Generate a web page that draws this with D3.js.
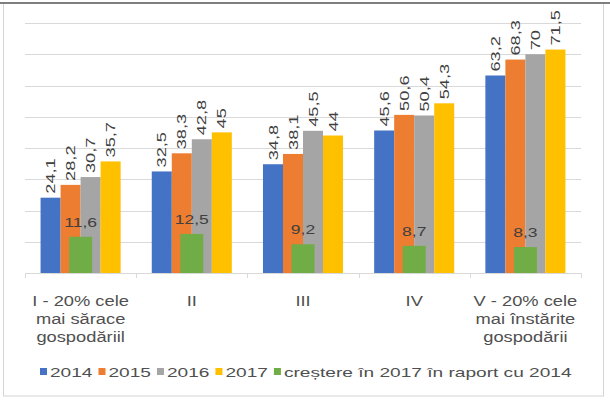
<!DOCTYPE html>
<html>
<head>
<meta charset="utf-8">
<script src="https://cdn.jsdelivr.net/npm/d3@7"></script>
<style>
  html, body { margin: 0; padding: 0; background: #fff; }
  svg text { font-family: "Liberation Sans", Arial, sans-serif; fill: #404040; }
</style>
</head>
<body>
<div id="chart"></div>
<script>
// data
var categories = ["I", "II", "III", "IV", "V"];
var catLabels = [
	["I - 20% cele", "mai sărace", "gospodăriil"],
	["II"],
	["III"],
	["IV"],
	["V - 20% cele", "mai înstărite", "gospodării"]
];
var seriesNames = ["2014", "2015", "2016", "2017"];
var v2014 = [24.1, 32.5, 34.8, 45.6, 63.2];
var v2015 = [28.2, 38.3, 38.1, 50.6, 68.3];
var v2016 = [30.7, 42.8, 45.5, 50.4, 70];
var v2017 = [35.7, 45, 44, 54.3, 71.5];
var growth = [11.6, 12.5, 9.2, 8.7, 8.3];
var growthName = "creștere în 2017 în raport cu 2014";
var yTicks = [0, 10, 20, 30, 40, 50, 60, 70, 80];

var colors = ["#4472c4", "#ed7d31", "#a5a5a5", "#ffc000"];
var growthColor = "#70ad47";
var series = [v2014, v2015, v2016, v2017];

var width = 610, height = 400;
var fmt = function(v){ return String(v).replace(".", ","); };

var svg = d3.select("#chart").append("svg")
	.attr("width", width)
	.attr("height", height);

// frame
svg.append("rect")
	.attr("x", 3.5).attr("y", 3.5)
	.attr("width", 600).attr("height", 392.5)
	.attr("fill", "none")
	.attr("stroke", "#d4d4d4");
svg.append("line")
	.attr("x1", 0).attr("x2", width)
	.attr("y1", 3).attr("y2", 3)
	.attr("stroke", "#7f7f7f")
	.attr("stroke-width", 2);

var y = d3.scaleLinear().domain([0, 80]).range([273, 23]);
var x0 = d3.scaleBand().domain(categories).range([25, 581])
	.paddingInner(0.28).paddingOuter(0.14);
var x1 = d3.scaleBand().domain(seriesNames).range([0, x0.bandwidth()]);
var step = x0.step();

// gridlines
svg.append("g")
	.selectAll("line")
	.data(yTicks.slice(1))
	.enter().append("line")
	.attr("x1", 25).attr("x2", 581)
	.attr("y1", d => Math.round(y(d)) + 0.5)
	.attr("y2", d => Math.round(y(d)) + 0.5)
	.attr("stroke", "#d9d9d9");

// bars
series.forEach(function(vals, si){
	svg.append("g")
		.selectAll("rect")
		.data(vals)
		.enter().append("rect")
		.attr("x", (d, i) => x0(categories[i]) + x1(seriesNames[si]))
		.attr("width", x1.bandwidth())
		.attr("y", d => y(d))
		.attr("height", d => y(0) - y(d))
		.attr("fill", colors[si]);
});

// growth bars, overlaid in the middle of each group
var gw = 23;
svg.append("g")
	.selectAll("rect")
	.data(growth)
	.enter().append("rect")
	.attr("x", (d, i) => x0(categories[i]) + x0.bandwidth() / 2 - gw / 2)
	.attr("width", gw)
	.attr("y", d => y(d))
	.attr("height", d => y(0) - y(d))
	.attr("fill", growthColor);

// axis line and ticks
svg.append("line")
	.attr("x1", 25).attr("x2", 581)
	.attr("y1", 273.5).attr("y2", 273.5)
	.attr("stroke", "#d9d9d9");
svg.append("g")
	.selectAll("line")
	.data(d3.range(categories.length + 1))
	.enter().append("line")
	.attr("x1", d => Math.round(25 + d * step) + 0.5)
	.attr("x2", d => Math.round(25 + d * step) + 0.5)
	.attr("y1", 273).attr("y2", 278)
	.attr("stroke", "#d9d9d9");

// rotated value labels
series.forEach(function(vals, si){
	svg.append("g")
		.selectAll("text")
		.data(vals)
		.enter().append("text")
		.attr("transform", function(d, i){
			var cx = x0(categories[i]) + x1(seriesNames[si]) + x1.bandwidth() / 2;
			return "translate(" + cx + "," + (y(d) - 4) + ") rotate(-90) scale(1.4,1)";
		})
		.attr("dy", "0.35em")
		.attr("font-size", 13)
		.text(d => fmt(d));
});

// growth labels
svg.append("g")
	.selectAll("text")
	.data(growth)
	.enter().append("text")
	.attr("transform", function(d, i){
		var cx = x0(categories[i]) + x0.bandwidth() / 2;
		return "translate(" + cx + "," + (y(d) - 10) + ") scale(1.35,1)";
	})
	.attr("text-anchor", "middle")
	.attr("font-size", 13)
	.text(d => fmt(d));

// category labels
catLabels.forEach(function(lines, i){
	var cx = x0(categories[i]) + x0.bandwidth() / 2;
	svg.append("g")
		.selectAll("text")
		.data(lines)
		.enter().append("text")
		.attr("transform", (d, j) => "translate(" + cx + "," + (306 + j * 18) + ") scale(1.22,1)")
		.attr("text-anchor", "middle")
		.attr("font-size", 15)
		.style("fill", "#505050")
		.text(d => d);
});

// legend
var legendItems = seriesNames.map((n, i) => ({ name: n, color: colors[i] }))
	.concat([{ name: growthName, color: growthColor }]);
var lx = 40, ly = 372, ls = 1.47;
legendItems.forEach(function(item){
	svg.append("rect")
		.attr("x", lx).attr("y", ly - 4)
		.attr("width", 7).attr("height", 7)
		.attr("fill", item.color);
	var t = svg.append("text")
		.attr("transform", "translate(" + (lx + 10) + "," + (ly + 5) + ") scale(" + ls + ",1)")
		.attr("font-size", 13)
		.style("fill", "#505050")
		.text(item.name);
	lx += 10 + t.node().getComputedTextLength() * ls + 6;
});
</script>
</body>
</html>
